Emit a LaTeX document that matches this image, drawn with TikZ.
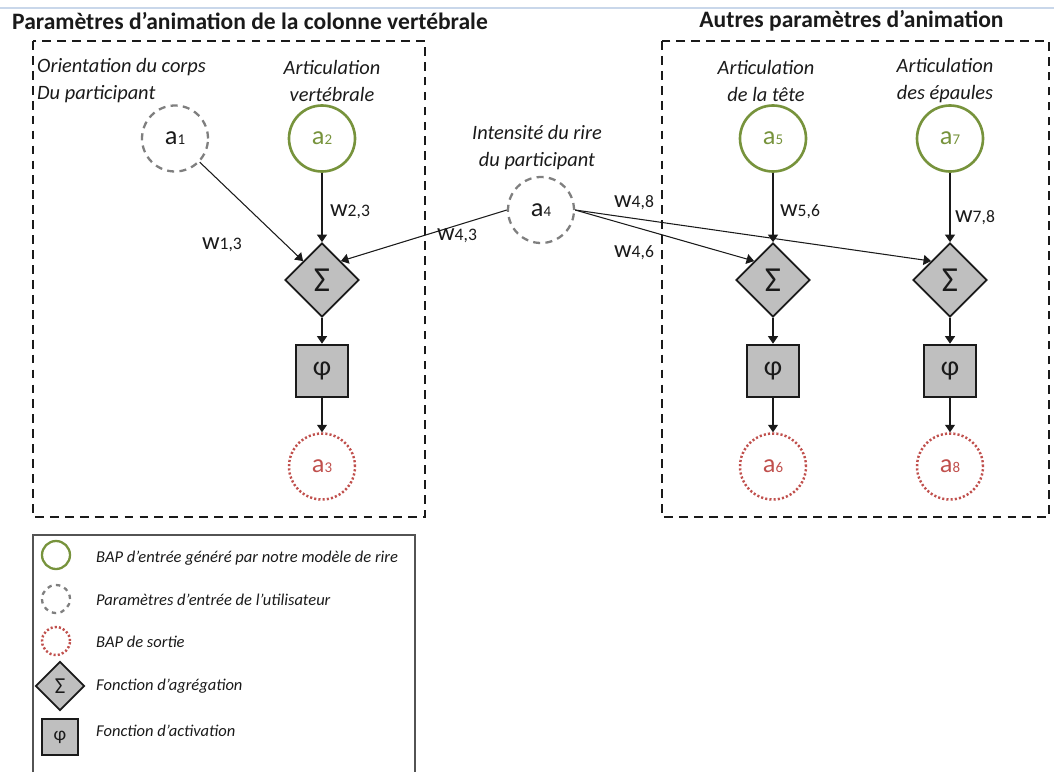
\documentclass[tikz,border=0pt]{standalone}
\usepackage{fontspec}
\setmainfont{Carlito}
\usetikzlibrary{arrows.meta,shapes.geometric,positioning}
\definecolor{ink}{HTML}{1A1A1A}
\definecolor{userin}{HTML}{7F7F7F}
\definecolor{laughin}{HTML}{77933C}
\definecolor{bapout}{HTML}{C0504D}
\definecolor{fnfill}{HTML}{BFBFBF}
\definecolor{rulebl}{HTML}{C9D7EA}
\newcommand{\NodeD}{1.32cm}
\newcommand{\SumD}{1.48cm}
\newcommand{\ActD}{1.04cm}
\newcommand{\BoxTop}{-0.82}
\newcommand{\BoxBot}{-10.34}
\newcommand{\ColA}{6.44}
\newcommand{\ColB}{15.46}
\newcommand{\ColC}{19.00}
\newcommand{\InY}{-2.77}
\newcommand{\SumY}{-5.60}
\newcommand{\ActY}{-7.42}
\newcommand{\OutY}{-9.33}
\newcommand{\LegX}{1.80}
\newcommand{\avar}[1]{{\fontsize{15}{15}\selectfont a}{\fontsize{8.5}{8.5}\selectfont #1}}
\newcommand{\wgt}[1]{{\fontsize{14}{14}\selectfont w}{\fontsize{10}{10}\selectfont #1}}

\begin{document}
\begin{tikzpicture}[
    font=\fontsize{11.6}{15.4}\selectfont, ink,
    edge/.style={-{Triangle[length=1.5mm,width=2mm]}, line width=0.6pt, draw=ink},
    group/.style={draw=ink, line width=1.2pt, dash pattern=on 5pt off 3.5pt},
    userpar/.style={circle, draw=userin, line width=1.3pt, dash pattern=on 4pt off 3pt, minimum size=\NodeD, inner sep=0pt, text=ink},
    laughpar/.style={circle, draw=laughin, line width=1.5pt, minimum size=\NodeD, inner sep=0pt, text=laughin},
    outpar/.style={circle, draw=bapout, line width=1.4pt, dash pattern=on 1.2pt off 1.2pt, minimum size=\NodeD, inner sep=0pt, text=bapout},
    sumfn/.style={diamond, aspect=1, draw=ink, line width=1pt, fill=fnfill, minimum size=\SumD, inner sep=0pt, font=\fontsize{20}{20}\selectfont},
    actfn/.style={rectangle, draw=ink, line width=1.5pt, fill=fnfill, minimum size=\ActD, inner sep=0pt, font=\fontsize{16}{16}\selectfont},
    what/.style={align=center, font=\fontsize{11.6}{15.4}\selectfont\itshape},
    heading/.style={font=\fontsize{13.4}{15}\selectfont\bfseries},
    legtext/.style={anchor=west, font=\fontsize{9.4}{11}\selectfont\itshape},
  ]
\useasboundingbox (0,0) rectangle (21.08,-15.44);
\draw[rulebl, line width=0.8pt] (0,-0.16) -- (21.08,-0.16);

% --- The two groups of animation parameters ------------------------------------------
\node[heading, anchor=west] (lefthead) at (0.12,-0.42) {Paramètres d’animation de la colonne vertébrale};
\node[heading] (righthead) at (17.03,-0.42) {Autres paramètres d’animation};
\draw[group] (0.66,\BoxTop) rectangle (8.50,\BoxBot);
\draw[group] (13.24,\BoxTop) rectangle (20.98,\BoxBot);

% --- One column per animated joint: input, sum, activation, output ---------------------
\foreach \x/\inp/\outp in {\ColA/2/3, \ColB/5/6, \ColC/7/8} {
  \node[laughpar] (a\inp) at (\x,\InY) {\avar{\inp}};
  \node[sumfn] (s\outp) at (\x,\SumY) {Σ};
  \node[actfn] (f\outp) at (\x,\ActY) {φ};
  \node[outpar] (a\outp) at (\x,\OutY) {\avar{\outp}};
  \draw[edge] (a\inp) -- (s\outp);
  \draw[edge] (s\outp) -- (f\outp);
  \draw[edge] (f\outp) -- (a\outp);
}

% --- User inputs, shared across the columns ---------------------------------------------
\node[userpar] (a1) at (3.50,\InY) {\avar{1}};
\node[userpar] (a4) at (10.82,-4.20) {\avar{4}};
\draw[edge] (a1) -- (s3.north west);
\draw[edge] (a4.west) -- (s3.north east);
\draw[edge] (a4.east) -- (s6.north west);
\draw[edge] (a4.east) -- (s8.north west);

\node[what, anchor=west, align=left] (d1) at (0.62,-1.62) {Orientation du corps\\Du participant};
\node[what] (d2) at (6.64,-1.62) {Articulation\\vertébrale};
\node[what] (d4) at (10.74,-2.96) {Intensité du rire\\du participant};
\node[what] (d5) at (15.32,-1.62) {Articulation\\de la tête};
\node[what] (d7) at (18.90,-1.62) {Articulation\\des épaules};

% weights
\node (w13) at (4.44,-4.90) {\wgt{1,3}};
\node (w23) at (7.00,-4.24) {\wgt{2,3}};
\node (w43) at (9.14,-4.72) {\wgt{4,3}};
\node (w48) at (12.68,-4.06) {\wgt{4,8}};
\node (w46) at (12.68,-5.06) {\wgt{4,6}};
\node (w56) at (16.00,-4.24) {\wgt{5,6}};
\node (w78) at (19.50,-4.36) {\wgt{7,8}};

% --- Legend -----------------------------------------------------------------------------
\draw[ink!75, line width=0.9pt] (0.66,-15.44) |- (8.30,-10.70) -- (8.30,-15.44);
\node[laughpar, minimum size=0.56cm, line width=1.3pt] (k1) at (1.12,-11.10) {};
\node[userpar, minimum size=0.56cm, dash pattern=on 2.5pt off 2.5pt] (k2) at (1.12,-11.98) {};
\node[outpar, minimum size=0.56cm] (k3) at (1.12,-12.82) {};
\node[sumfn, minimum size=0.98cm, font=\fontsize{13}{13}\selectfont] (k4) at (1.20,-13.72) {Σ};
\node[actfn, minimum size=0.72cm, font=\fontsize{11}{11}\selectfont] (k5) at (1.20,-14.74) {φ};
\node[legtext] (t1) at (\LegX,-11.16) {BAP d’entrée généré par notre modèle de rire};
\node[legtext] (t2) at (\LegX,-12.00) {Paramètres d’entrée de l’utilisateur};
\node[legtext] (t3) at (\LegX,-12.84) {BAP de sortie};
\node[legtext] (t4) at (\LegX,-13.72) {Fonction d’agrégation};
\node[legtext] (t5) at (\LegX,-14.62) {Fonction d’activation};

\end{tikzpicture}
\end{document}
